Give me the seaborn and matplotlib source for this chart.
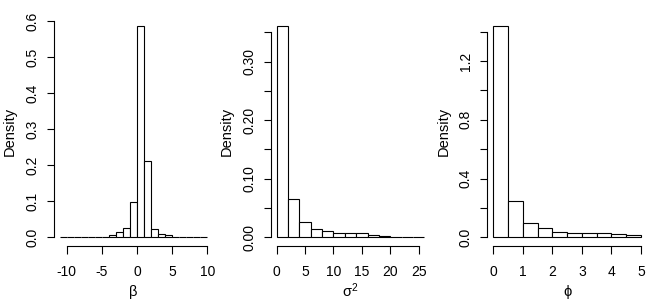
import matplotlib
matplotlib.use("Agg")
import matplotlib.pyplot as plt
import seaborn as sns
import numpy as np
import pandas as pd

# ---- data (density histograms) ----
beta_edges = [-11, -10, -9, -8, -7, -6, -5, -4, -3, -2, -1, 0, 1, 2, 3, 4, 5, 6, 7, 8, 9, 10]
beta_density = [0, 0, 0, 0, 0, 0.002, 0.002, 0.007, 0.014, 0.027, 0.099,
                0.585, 0.211, 0.024, 0.008, 0.005, 0.002, 0, 0, 0, 0]

sigma2_edges = [0, 2, 4, 6, 8, 10, 12, 14, 16, 18, 20, 22, 24, 26]
sigma2_density = [0.360, 0.0655, 0.026, 0.0137, 0.0108, 0.0068, 0.0068,
                  0.0068, 0.004, 0.002, 0, 0, 0]

phi_edges = [0, 0.5, 1, 1.5, 2, 2.5, 3, 3.5, 4, 4.5, 5]
phi_density = [1.436, 0.245, 0.098, 0.061, 0.036, 0.029, 0.029, 0.029, 0.022, 0.016]

beta_xticks = [-10, -5, 0, 5, 10]
sigma2_xticks = [0, 5, 10, 15, 20, 25]
phi_xticks = [0, 1, 2, 3, 4, 5]

beta_yticks = [0.0, 0.1, 0.2, 0.3, 0.4, 0.5, 0.6]
beta_ylabels = ["0.0", "0.1", "0.2", "0.3", "0.4", "0.5", "0.6"]
sigma2_yticks = [0.0, 0.05, 0.10, 0.15, 0.20, 0.25, 0.30, 0.35]
sigma2_ylabels = ["0.00", "", "0.10", "", "0.20", "", "0.30", ""]
phi_yticks = [0.0, 0.2, 0.4, 0.6, 0.8, 1.0, 1.2, 1.4]
phi_ylabels = ["0.0", "", "0.4", "", "0.8", "", "1.2", ""]

xlabels = ["\u03b2", r"$\sigma^{2}$", "\u03d5"]
xlabel_pads = [4, 1.5, 4]

sns.set_theme(style="white")
plt.rcParams["font.family"] = ["Liberation Sans", "DejaVu Sans"]
plt.rcParams["mathtext.fontset"] = "custom"
plt.rcParams["mathtext.rm"] = "Liberation Sans"
plt.rcParams["mathtext.it"] = "Liberation Sans"
plt.rcParams["text.color"] = "black"
plt.rcParams["axes.labelcolor"] = "black"
plt.rcParams["xtick.color"] = "black"
plt.rcParams["ytick.color"] = "black"

fig = plt.figure(figsize=(6.5, 3), dpi=100)
lefts = [0.0828, 0.4166, 0.7498]
width = 0.2452
bottom = 0.181
height = 0.759

panels = [
    (beta_edges, beta_density, beta_xticks, beta_yticks, beta_ylabels),
    (sigma2_edges, sigma2_density, sigma2_xticks, sigma2_yticks, sigma2_ylabels),
    (phi_edges, phi_density, phi_xticks, phi_yticks, phi_ylabels),
]

for i, (edges, dens, xt, yt, yl) in enumerate(panels):
    ax = fig.add_axes([lefts[i], bottom, width, height])
    centers = [(edges[k] + edges[k + 1]) / 2 for k in range(len(edges) - 1)]
    df = pd.DataFrame({"x": centers, "w": dens})
    sns.histplot(data=df, x="x", weights="w", bins=list(edges), stat="count",
                 color="white", edgecolor="black", linewidth=0.8,
                 alpha=1, ax=ax)
    xr = edges[-1] - edges[0]
    yr = max(dens)
    ax.set_xlim(edges[0] - 0.04 * xr, edges[-1] + 0.04 * xr)
    ax.set_ylim(-0.04 * yr, yr * 1.04)
    for s in ["top", "right"]:
        ax.spines[s].set_visible(False)
    for s in ["left", "bottom"]:
        ax.spines[s].set_color("black")
        ax.spines[s].set_linewidth(0.8)
    ax.spines["bottom"].set_bounds(xt[0], xt[-1])
    ax.spines["left"].set_bounds(yt[0], yt[-1])
    ax.set_xticks(xt)
    ax.set_xticklabels([str(v) for v in xt])
    ax.set_yticks(yt)
    ax.set_yticklabels(yl, rotation=90, va="center")
    ax.tick_params(axis="both", which="major", length=5.4, width=0.8,
                   labelsize=10, direction="out", bottom=True, left=True)
    ax.tick_params(axis="x", pad=8.5)
    ax.tick_params(axis="y", pad=5)
    ax.set_xlabel(xlabels[i], fontsize=10.5, labelpad=xlabel_pads[i])
    ax.set_ylabel("Density", fontsize=10.5, labelpad=6)
    ax.grid(False)

fig.savefig("out.png", dpi=100)
